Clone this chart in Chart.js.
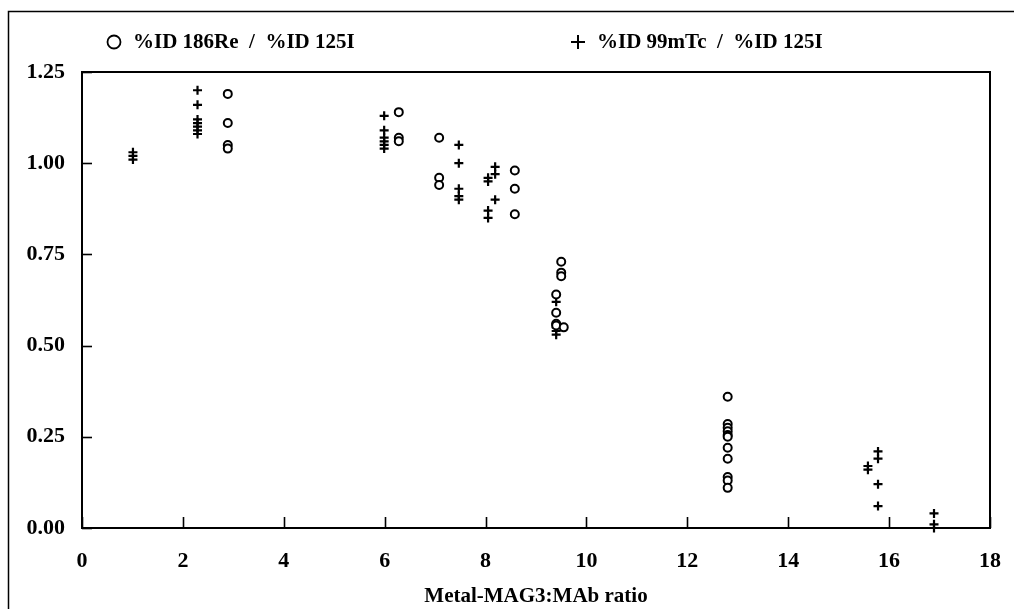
<!DOCTYPE html>
<html>
<head>
<meta charset="utf-8">
<script src="https://cdn.jsdelivr.net/npm/chart.js@4/dist/chart.umd.min.js"></script>
<style>
  html, body { margin: 0; padding: 0; background: #fff; }
  #wrap { width: 1014px; height: 609px; }
</style>
</head>
<body>
<div id="wrap"><canvas id="grafico" width="1014" height="609"></canvas></div>
<script>
// %ID 186Re / %ID 125I  (circles)
const reX = [2.89, 2.89, 2.89, 2.89,
             6.28, 6.28, 6.28,
             7.08, 7.08, 7.08,
             8.58, 8.58, 8.58,
             9.50, 9.50, 9.50,
             9.40, 9.40, 9.40, 9.40, 9.55,
             12.8, 12.8, 12.8, 12.8, 12.8, 12.8, 12.8, 12.8, 12.8, 12.8, 12.8];
const reY = [1.19, 1.11, 1.05, 1.04,
             1.14, 1.07, 1.06,
             1.07, 0.96, 0.94,
             0.98, 0.93, 0.86,
             0.73, 0.70, 0.69,
             0.64, 0.59, 0.56, 0.555, 0.55,
             0.36, 0.285, 0.275, 0.265, 0.255, 0.25, 0.22, 0.19, 0.14, 0.13, 0.11];

// %ID 99mTc / %ID 125I  (plus)
const tcX = [1.01, 1.01, 1.01,
             2.29, 2.29, 2.29, 2.29, 2.29, 2.29, 2.29,
             5.99, 5.99, 5.99, 5.99, 5.99, 5.99,
             7.47, 7.47, 7.47, 7.47, 7.47,
             8.19, 8.19, 8.19, 8.05, 8.05, 8.05, 8.05,
             9.40, 9.40, 9.40, 9.40, 9.40,
             15.58, 15.58,
             15.78, 15.78, 15.78, 15.78,
             16.89, 16.89, 16.89];
const tcY = [1.03, 1.02, 1.01,
             1.20, 1.16, 1.12, 1.11, 1.10, 1.09, 1.08,
             1.13, 1.09, 1.07, 1.06, 1.05, 1.04,
             1.05, 1.00, 0.93, 0.91, 0.90,
             0.99, 0.97, 0.90, 0.96, 0.95, 0.87, 0.85,
             0.62, 0.56, 0.55, 0.54, 0.53,
             0.17, 0.16,
             0.21, 0.19, 0.12, 0.06,
             0.04, 0.01, 0.00];

const xTicks = [0, 2, 4, 6, 8, 10, 12, 14, 16, 18];
const yTicks = [0, 0.25, 0.5, 0.75, 1.0, 1.25];

const legendRe = "%ID 186Re  /  %ID 125I";
const legendTc = "%ID 99mTc  /  %ID 125I";
const tituloX = "Metal-MAG3:MAb ratio";

const fonte = "'Liberation Serif', 'Times New Roman', serif";

// frame, inward tick marks, legend and outer box
const molduraPlugin = {
  id: "moldura",
  afterDraw(chart) {
    const ctx = chart.ctx;
    const a = chart.chartArea;
    const sx = chart.scales.x, sy = chart.scales.y;
    ctx.save();
    ctx.strokeStyle = "#000";
    ctx.lineWidth = 2;
    ctx.strokeRect(a.left, a.top, a.right - a.left, a.bottom - a.top);

    ctx.lineWidth = 1.6;
    xTicks.forEach(v => {
      const px = Math.round(sx.getPixelForValue(v)) + 0.5;
      ctx.beginPath();
      ctx.moveTo(px, a.bottom);
      ctx.lineTo(px, a.bottom - 11);
      ctx.stroke();
    });
    yTicks.forEach(v => {
      const py = Math.round(sy.getPixelForValue(v)) + 0.5;
      ctx.beginPath();
      ctx.moveTo(a.left, py);
      ctx.lineTo(a.left + 10, py);
      ctx.stroke();
    });

    // outer box (top and left edges visible)
    ctx.lineWidth = 1.5;
    ctx.beginPath();
    ctx.moveTo(8.5, 609);
    ctx.lineTo(8.5, 11.5);
    ctx.lineTo(1014, 11.5);
    ctx.stroke();

    // legend
    ctx.fillStyle = "#000";
    ctx.font = "bold 21px " + fonte;
    ctx.textBaseline = "middle";
    ctx.textAlign = "left";
    ctx.lineWidth = 1.8;
    ctx.beginPath();
    ctx.arc(114, 42, 6.5, 0, Math.PI * 2);
    ctx.stroke();
    ctx.fillText(legendRe, 133, 43);

    ctx.lineWidth = 2;
    ctx.beginPath();
    ctx.moveTo(571, 42); ctx.lineTo(585, 42);
    ctx.moveTo(578, 35); ctx.lineTo(578, 49);
    ctx.stroke();
    ctx.fillText(legendTc, 597, 43);
    ctx.restore();
  }
};

new Chart(document.getElementById("grafico").getContext("2d"), {
  type: "scatter",
  data: {
    datasets: [
      {
        label: legendRe,
        data: reX.map((x, i) => ({ x: x, y: reY[i] })),
        pointStyle: "circle",
        pointRadius: 4,
        borderColor: "#000",
        backgroundColor: "#fff",
        borderWidth: 2,
        clip: false
      },
      {
        label: legendTc,
        data: tcX.map((x, i) => ({ x: x, y: tcY[i] })),
        pointStyle: "cross",
        pointRadius: 4.5,
        borderColor: "#000",
        backgroundColor: "#000",
        borderWidth: 2.2,
        clip: false
      }
    ]
  },
  options: {
    responsive: false,
    animation: false,
    layout: { padding: { left: 0, top: 72, right: 24, bottom: 0 } },
    plugins: {
      legend: { display: false },
      tooltip: { enabled: false }
    },
    scales: {
      x: {
        type: "linear",
        min: 0,
        max: 18,
        afterBuildTicks: s => { s.ticks = xTicks.map(v => ({ value: v })); },
        afterFit: s => { s.height = 81; s.paddingLeft = 0; s.paddingRight = 0; },
        grid: { display: false, drawTicks: false },
        border: { display: true, color: "#000", width: 2 },
        ticks: {
          color: "#000",
          font: { family: fonte, size: 22, weight: "bold" },
          padding: 20,
          maxRotation: 0
        },
        title: {
          display: true,
          text: tituloX,
          color: "#000",
          font: { family: fonte, size: 21, weight: "bold" },
          padding: { top: 0, bottom: 0 }
        }
      },
      y: {
        type: "linear",
        min: 0,
        max: 1.25,
        afterBuildTicks: s => { s.ticks = yTicks.map(v => ({ value: v })); },
        afterFit: s => { s.width = 82; s.paddingTop = 0; s.paddingBottom = 0; },
        grid: { display: false, drawTicks: false },
        border: { display: true, color: "#000", width: 2 },
        ticks: {
          color: "#000",
          font: { family: fonte, size: 22, weight: "bold" },
          padding: 17,
          callback: v => Number(v).toFixed(2)
        }
      }
    }
  },
  plugins: [molduraPlugin]
});
</script>
</body>
</html>
